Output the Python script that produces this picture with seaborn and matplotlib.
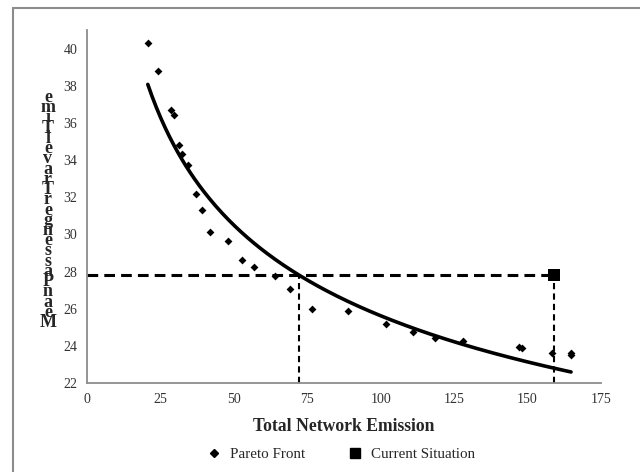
import numpy as np
import pandas as pd
import matplotlib
matplotlib.use("Agg")
import matplotlib.pyplot as plt
from matplotlib.lines import Line2D
import seaborn as sns

sns.set_style("white")
plt.rcParams['font.family'] = ['Liberation Serif', 'DejaVu Serif']

# Pareto front
emission = [20.7, 24.1, 28.5, 29.6, 31.2, 32.5, 34.3, 37.1, 39.0, 41.8, 47.9, 52.9, 57.0,
            64.1, 69.0, 76.6, 88.8, 101.9, 111.0, 118.4, 128.1, 147.1, 148.2, 158.2, 164.8, 164.8]
travel_time = [40.3, 38.8, 36.7, 36.4, 34.8, 34.35, 33.75, 32.15, 31.3, 30.15, 29.65, 28.6, 28.25,
               27.75, 27.05, 26.0, 25.9, 25.2, 24.75, 24.4, 24.25, 23.95, 23.9, 23.6, 23.6, 23.5]
# current situation
cur_emission = [159.1]
cur_time = [27.82]

x_ticks = [0, 25, 50, 75, 100, 125, 150, 175]
y_ticks = [22, 24, 26, 28, 30, 32, 34, 36, 38, 40]

pareto = pd.DataFrame({'emission': emission, 'time': travel_time})
current = pd.DataFrame({'emission': cur_emission, 'time': cur_time})

# power trendline (Excel style: least squares in log-log space)
b, ln_a = np.polyfit(np.log(pareto['emission']), np.log(pareto['time']), 1)
trend_x = np.linspace(pareto['emission'].min(), pareto['emission'].max(), 200)
trend = pd.DataFrame({'emission': trend_x, 'time': np.exp(ln_a) * trend_x ** b})
# emission on the trendline at the current travel time
x_equal = (cur_time[0] / np.exp(ln_a)) ** (1 / b)

fig = plt.figure(figsize=(6.4, 4.72), dpi=100)
ax = fig.add_axes([87 / 640, 1 - 383 / 472, 514 / 640, 353 / 472])

gray = '#8c8c8c'
ax.plot([0, cur_emission[0]], [cur_time[0], cur_time[0]], color='black', lw=2.2, dashes=(3.5, 2), zorder=2)
ax.plot([cur_emission[0], cur_emission[0]], [22, cur_time[0]], color='black', lw=1.5, dashes=(3, 2), zorder=2)
ax.plot([x_equal, x_equal], [22, cur_time[0]], color='black', lw=1.5, dashes=(3, 2), zorder=2)

sns.lineplot(data=trend, x='emission', y='time', color='black', lw=2.6, ax=ax, zorder=3)
sns.scatterplot(data=pareto, x='emission', y='time', marker='D', s=16, color='black',
                edgecolor='black', linewidth=0, ax=ax, zorder=4, label='Pareto Front')
sns.scatterplot(data=current, x='emission', y='time', marker='s', s=80, color='black',
                edgecolor='black', linewidth=0, ax=ax, zorder=5, label='Current Situation')

ax.set_xlim(0, 175)
ax.set_ylim(22, 41)
ax.set_xticks(x_ticks)
ax.set_yticks(y_ticks)
ax.tick_params(axis='both', direction='out', length=4, width=1, color=gray, labelsize=10,
               labelcolor='#333333', pad=3)
for side in ['top', 'right']:
    ax.spines[side].set_visible(False)
for side in ['left', 'bottom']:
    ax.spines[side].set_color(gray)
    ax.spines[side].set_linewidth(1.3)

ax.set_xlabel('Total Network Emission', fontsize=12.7, fontweight='bold', labelpad=9)
stacked = "\n".join(reversed("MeanPassengerTravelTime"))
ax.set_ylabel(stacked, rotation=0, fontsize=13, fontweight='bold', linespacing=0.48,
              ha='center', va='center')
ax.yaxis.set_label_coords(-0.076, 0.49)

ax.get_legend().remove()
handles = [Line2D([], [], marker='D', ls='', color='black', markersize=3.8),
           Line2D([], [], marker='s', ls='', color='black', markersize=7.5)]
fig.legend(handles, ['Pareto Front', 'Current Situation'], loc='center', ncol=2,
           bbox_to_anchor=(340 / 640, 1 - 454 / 472), frameon=False, fontsize=10.8,
           handletextpad=0.5, columnspacing=2.7, handlelength=1.2)

# chart area border (left and top edges visible)
fig.add_artist(Line2D([13 / 640, 13 / 640], [0, 1 - 8 / 472], color=gray, lw=1.5))
fig.add_artist(Line2D([13 / 640, 1], [1 - 8 / 472, 1 - 8 / 472], color=gray, lw=1.5))

fig.savefig('out.png', dpi=100)
